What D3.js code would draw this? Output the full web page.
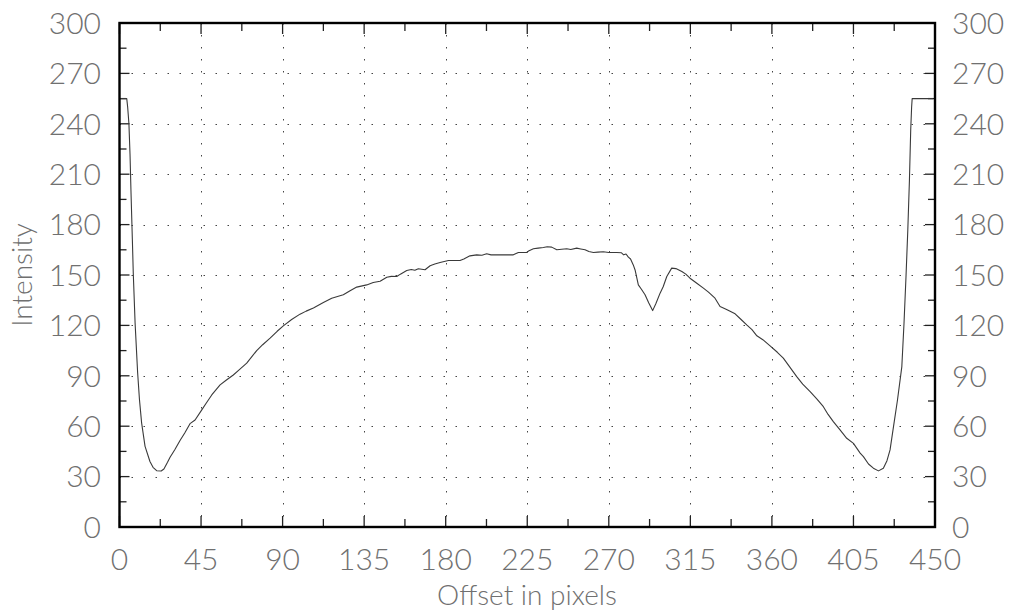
<!DOCTYPE html>
<html>
<head>
<meta charset="utf-8">
<script src="https://cdn.jsdelivr.net/npm/d3@7"></script>
<style>
  html, body { margin: 0; padding: 0; background: #fff; }
  svg { display: block; }
  .lbl { font-family: "Lato", "DejaVu Sans", sans-serif; font-weight: 300; fill: #707070; }
</style>
</head>
<body>
<svg id="chart" width="1013" height="611"></svg>
<script>
const offsets = [0,4,4.5,5.2,5.8,6.3,7.1,7.6,8.6,10,11,12.2,14.1,16.8,18.5,20.5,23,24.5,26.5,27.9,30.5,33.4,36,38.9,41.7,45.4,48,50.9,55.5,59,62.8,66,70.2,75.7,79,83.1,87,90.4,95,99.6,103,107,112.5,117.1,123.5,127,130.9,136.4,140,143.8,147.5,150,153,155,158.5,161,163,164.9,168.6,171.4,174,176.9,181.5,185,187.9,190,193.4,197.1,200,202.6,205,208.2,213,217.3,220.1,224.7,226,228.4,231,233.9,236,238.5,241.3,244,246.8,249,252.3,254.5,256.9,259,261.5,264,267,270,274.4,277,278.2,279.5,280.8,282,283.5,284.5,286.3,288,290,292,294.2,296,298.3,300,302,304.7,307,310.3,312.5,314.8,318,322.2,325,328.6,331.4,335,339.7,343,346.1,349,351.7,355,359,363,366.3,370,373.7,377,381.1,385,388.4,391,393.9,397.6,401.3,405,408.7,410.5,413.3,416,418.8,421.5,423.5,425.2,427.1,429.3,431.7,432.9,434,435,435.9,436.6,437.1,437.4,449];
const intensity = [255,255,250,240,222,201,171,151,121.5,92,76,62,48,39,35.5,33.5,33.3,34.5,38.5,41.5,46,51.5,56,61.5,63.7,69.7,74,78.6,84.6,87.5,90.5,93.5,97.5,105,108.5,112.4,116.5,119.7,123.5,126.7,128.5,130.3,133.6,136.2,138.2,140.5,142.8,144.1,145.5,146.3,148.7,149.2,149.1,150.5,152.7,153.3,152.8,153.7,153.1,155.5,156.5,157.4,158.6,158.6,158.6,159.5,161.4,162,161.8,162.6,162,162,162,162,163.4,163.4,164.5,165.6,166,166.4,166.8,166.6,165,165.3,165.6,165.2,166,165.5,165,164,163.4,163.6,163.8,163.4,163.4,163.2,162,162.5,160.6,159.5,156,153,144.1,141.5,138.2,133.5,128.8,133,139.2,143,149.1,154.1,153.8,152.1,150.5,148.1,145.5,142.2,139.8,136.2,131.2,129.5,126.9,123.5,120.3,117.5,113.8,111.5,107.8,104,100.5,95,89.5,85,80.6,76,71.6,67,62.7,57.8,52.8,49.8,44,41.9,37.5,35,33.4,35,39.5,45.9,59.7,75.6,95.5,121.3,149.1,176.9,206.7,236.5,250,255,255];
const xTicks = [0,45,90,135,180,225,270,315,360,405,450];
const xMinor = [22.5,67.5,112.5,157.5,202.5,247.5,292.5,337.5,382.5,427.5];
const yTicks = [0,30,60,90,120,150,180,210,240,270,300];
const yMinor = [15,45,75,105,135,165,195,225,255,285];
const xTitle = "Offset in pixels";
const yTitle = "Intensity";

const svg = d3.select("#chart");
const L = 119.5, R = 935, T = 23, B = 527;
const x = d3.scaleLinear().domain([0, 450]).range([L, R]);
const y = d3.scaleLinear().domain([0, 300]).range([B, T]);

// grid
const grid = svg.append("g").attr("stroke", "#444").attr("stroke-width", 1).attr("stroke-dasharray", "1.5,10.5");
grid.selectAll(".hg").data(yTicks.filter(d => d > 0 && d < 300)).join("line")
  .attr("x1", L).attr("x2", R).attr("y1", d => Math.round(y(d)) + 0.5).attr("y2", d => Math.round(y(d)) + 0.5);
grid.selectAll(".vg").data(xTicks.filter(d => d > 0 && d < 450)).join("line")
  .attr("y1", T).attr("y2", B).attr("x1", d => Math.round(x(d)) + 0.5).attr("x2", d => Math.round(x(d)) + 0.5);

// ticks
const tk = svg.append("g").attr("stroke", "#222").attr("stroke-width", 1.3);
[[yTicks, 10], [yMinor, 7]].forEach(([arr, len]) => {
  tk.append("g").selectAll("line").data(arr).join("line")
    .attr("x1", L).attr("x2", L + len).attr("y1", d => y(d)).attr("y2", d => y(d));
  tk.append("g").selectAll("line").data(arr).join("line")
    .attr("x1", R).attr("x2", R - len).attr("y1", d => y(d)).attr("y2", d => y(d));
});
[[xTicks, 11], [xMinor, 8]].forEach(([arr, len]) => {
  tk.append("g").selectAll("line").data(arr).join("line")
    .attr("y1", B).attr("y2", B - len).attr("x1", d => x(d)).attr("x2", d => x(d));
  tk.append("g").selectAll("line").data(arr).join("line")
    .attr("y1", T).attr("y2", T + len).attr("x1", d => x(d)).attr("x2", d => x(d));
});

// data line
const line = d3.line().x((d, i) => x(offsets[i])).y(d => y(d));
svg.append("path").datum(intensity).attr("d", line)
  .attr("fill", "none").attr("stroke", "#3a3a3a").attr("stroke-width", 1.1).attr("stroke-linejoin", "round");

// frame
svg.append("rect").attr("x", L).attr("y", T).attr("width", R - L).attr("height", B - T)
  .attr("fill", "none").attr("stroke", "#000").attr("stroke-width", 2.4);

// labels
const fs = 30;
svg.append("g").selectAll("text").data(yTicks).join("text").attr("class", "lbl")
  .attr("x", 101).attr("y", d => y(d)).attr("dy", "0.36em").attr("text-anchor", "end")
  .attr("font-size", fs).text(d => d);
svg.append("g").selectAll("text").data(yTicks).join("text").attr("class", "lbl")
  .attr("x", 952).attr("y", d => y(d)).attr("dy", "0.36em").attr("text-anchor", "start")
  .attr("font-size", fs).text(d => d);
svg.append("g").selectAll("text").data(xTicks).join("text").attr("class", "lbl")
  .attr("x", d => x(d)).attr("y", 570).attr("text-anchor", "middle")
  .attr("font-size", fs).text(d => d);
svg.append("text").attr("class", "lbl").attr("x", 527).attr("y", 605).attr("text-anchor", "middle")
  .attr("font-size", 28).text(xTitle);
svg.append("text").attr("class", "lbl").attr("transform", "translate(32,275) rotate(-90)")
  .attr("text-anchor", "middle").attr("font-size", 28).text(yTitle);
</script>
</body>
</html>
